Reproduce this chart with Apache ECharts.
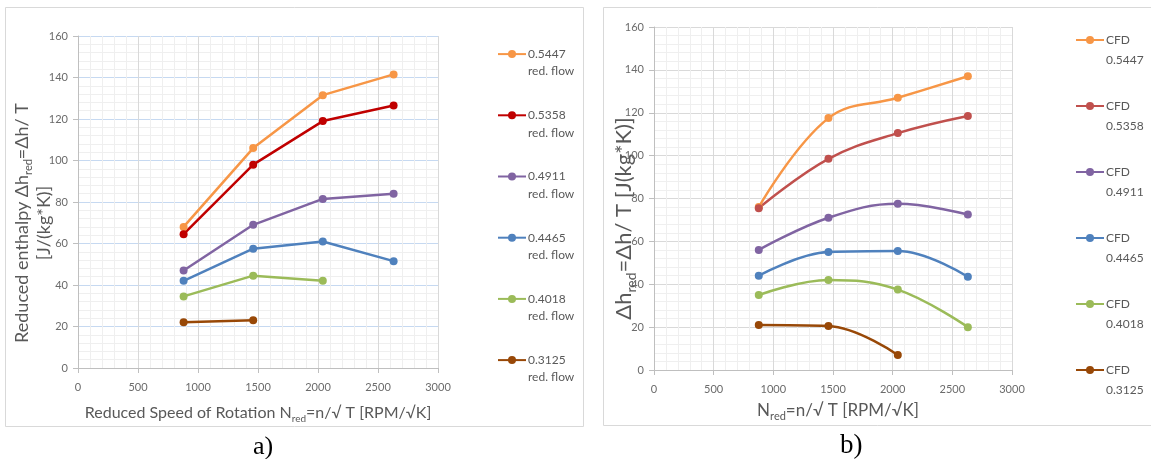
<!DOCTYPE html>
<html>
<head>
<meta charset="utf-8">
<script src="https://cdn.jsdelivr.net/npm/echarts@6/dist/echarts.min.js"></script>
<style>
html,body{margin:0;padding:0;background:#fff;}
#c{width:1151px;height:459px;}
</style>
</head>
<body>
<div id="c"></div>
<script>
// ---------- data ----------
const speedsA = [880, 1460, 2040, 2630];
const flowsA = ['0.5447', '0.5358', '0.4911', '0.4465', '0.4018', '0.3125'];
const enthA_5447 = [68, 106, 131.5, 141.5];
const enthA_5358 = [64.5, 98, 119, 126.5];
const enthA_4911 = [47, 69, 81.5, 84];
const enthA_4465 = [42, 57.5, 61, 51.5];
const enthA_4018 = [34.5, 44.5, 42];
const enthA_3125 = [22, 23];

const speedsB = [878, 1462, 2043, 2630];
const enthB_5447 = [76, 117.5, 127, 137];
const enthB_5358 = [75.5, 98.5, 110.5, 118.5];
const enthB_4911 = [56, 71, 77.5, 72.5];
const enthB_4465 = [44, 55, 55.5, 43.5];
const enthB_4018 = [35, 42, 37.5, 20];
const enthB_3125 = [21, 20.5, 7];

const xTicks = [0, 500, 1000, 1500, 2000, 2500, 3000];
const yTicks = [0, 20, 40, 60, 80, 100, 120, 140, 160];

const colorsA = ['#F79646', '#C00000', '#8064A2', '#4F81BD', '#9BBB59', '#984807'];
const colorsB = ['#F79646', '#C0504D', '#8064A2', '#4F81BD', '#9BBB59', '#984807'];

// ---------- build ----------
const FONT = 'Lato, "Open Sans", sans-serif';
const TXT = '#595959';
const seriesA = [enthA_5447, enthA_5358, enthA_4911, enthA_4465, enthA_4018, enthA_3125];
const seriesB = [enthB_5447, enthB_5358, enthB_4911, enthB_4465, enthB_4018, enthB_3125];

function pairs(xs, ys) { return ys.map((v, i) => [xs[i], v]); }

function xAxisCfg(gi, nm, nameGap) {
  return {
    gridIndex: gi, type: 'value', min: xTicks[0], max: xTicks[xTicks.length - 1], interval: 500,
    axisLine: { show: true, onZero: false, lineStyle: { color: '#BFBFBF', width: 1 } },
    axisTick: { show: true, length: 5, lineStyle: { color: '#BFBFBF' } },
    axisLabel: { color: '#6b6b6b', fontSize: 11, fontFamily: FONT, margin: 14, formatter: (v) => String(v) },
    splitLine: { show: true, lineStyle: { color: '#D9D9D9', width: 1 } },
    minorTick: { show: false, splitNumber: 5 },
    minorSplitLine: { show: true, lineStyle: { color: '#EFEFEF', width: 1 } },
    name: nm.text, nameLocation: 'middle', nameGap: nameGap, nameMoveOverlap: false,
    nameTextStyle: { color: TXT, fontFamily: FONT, fontSize: nm.size, rich: nm.rich, padding: nm.padding || 0 }
  };
}
function yAxisCfg(gi, nm, nameGap, hColor) {
  return {
    gridIndex: gi, type: 'value', min: yTicks[0], max: yTicks[yTicks.length - 1], interval: 20,
    axisLine: { show: true, lineStyle: { color: '#BFBFBF', width: 1 } },
    axisTick: { show: true, length: 5, lineStyle: { color: '#BFBFBF' } },
    axisLabel: { color: '#6b6b6b', fontSize: 11, fontFamily: FONT, margin: 10 },
    splitLine: { show: true, lineStyle: { color: hColor, width: 1 } },
    minorTick: { show: false, splitNumber: 5 },
    minorSplitLine: { show: true, lineStyle: { color: '#EFEFEF', width: 1 } },
    name: nm.text, nameLocation: 'middle', nameGap: nameGap, nameRotate: 90, nameMoveOverlap: false,
    nameTextStyle: { color: TXT, fontFamily: FONT, fontSize: nm.size, rich: nm.rich, align: 'center', padding: nm.padding || 0 }
  };
}
function richSet(size, lh) {
  return {
    n: { fontSize: size, color: TXT, fontFamily: FONT, lineHeight: lh, verticalAlign: 'bottom' },
    s: { fontSize: Math.round(size * 0.62), color: TXT, fontFamily: FONT, lineHeight: lh, verticalAlign: 'bottom', padding: [0, 0, -3, 0] }
  };
}

const series = [];
flowsA.forEach((f, i) => {
  series.push({
    type: 'line', name: f + '\nred. flow', xAxisIndex: 0, yAxisIndex: 0,
    data: pairs(speedsA, seriesA[i]), color: colorsA[i],
    symbol: 'circle', symbolSize: 8, lineStyle: { width: 2.5 }, smooth: false, animation: false
  });
});
flowsA.forEach((f, i) => {
  series.push({
    type: 'line', name: 'CFD\n' + f, xAxisIndex: 1, yAxisIndex: 1,
    data: pairs(speedsB, seriesB[i]), color: colorsB[i],
    symbol: 'circle', symbolSize: 8, lineStyle: { width: 2.5 }, smooth: 0.4, animation: false
  });
});

function legendCfg(names, top, left, gap, lh) {
  return {
    data: names, orient: 'vertical', top: top, left: left, itemGap: gap,
    itemWidth: 28, itemHeight: 10, selectedMode: false,
    formatter: (n) => '\n' + n,
    textStyle: { color: TXT, fontFamily: FONT, fontSize: 12, lineHeight: lh, padding: [0, 0, 0, -3] }
  };
}

const chart = echarts.init(document.getElementById('c'), null, { renderer: 'canvas' });
chart.setOption({
  backgroundColor: '#fff',
  animation: false,
  grid: [
    { left: 78, top: 36, width: 360, height: 332 },
    { left: 654, top: 27, width: 358, height: 343 }
  ],
  xAxis: [
    xAxisCfg(0, { text: '{n|Reduced Speed of Rotation N}{s|red}{n|=n/√ T [RPM/√K]}', size: 16, rich: richSet(16, 20) }, 33),
    xAxisCfg(1, { text: '{n|N}{s|red}{n|=n/√ T [RPM/√K]}', size: 17, rich: richSet(17, 22), padding: [0, 0, 0, 10] }, 27)
  ],
  yAxis: [
    yAxisCfg(0, { text: '{n|Reduced enthalpy Δh}{s|red}{n|=Δh/ T}\n{n|[J/(kg*K)]}', size: 18, rich: richSet(18, 22), padding: [0, 42, 0, 0] }, 25, '#C6D9F1'),
    yAxisCfg(1, { text: '{n|Δh}{s|red}{n|=Δh/ T [J(kg*K)]}', size: 22, rich: richSet(22, 24), padding: [0, 40, 0, 0] }, 19, '#D9D9D9')
  ],
  legend: [
    legendCfg(flowsA.map(f => f + '\nred. flow'), 23, 492, 9, 17.4),
    legendCfg(flowsA.map(f => 'CFD\n' + f), 5, 1070, 6, 20)
  ],
  graphic: [
    { type: 'rect', shape: { x: 5.5, y: 7.5, width: 578, height: 419 }, style: { fill: 'none', stroke: '#D9D9D9', lineWidth: 1 }, silent: true, z: -1 },
    { type: 'rect', shape: { x: 603.5, y: 7.5, width: 600, height: 418 }, style: { fill: 'none', stroke: '#D9D9D9', lineWidth: 1 }, silent: true, z: -1 },
    { type: 'text', left: 253, top: 434, style: { text: 'a)', font: '26px "Liberation Serif", serif', fill: '#000' } },
    { type: 'text', left: 840, top: 432, style: { text: 'b)', font: '27px "Liberation Serif", serif', fill: '#000' } }
  ],
  series: series
});
</script>
</body>
</html>
